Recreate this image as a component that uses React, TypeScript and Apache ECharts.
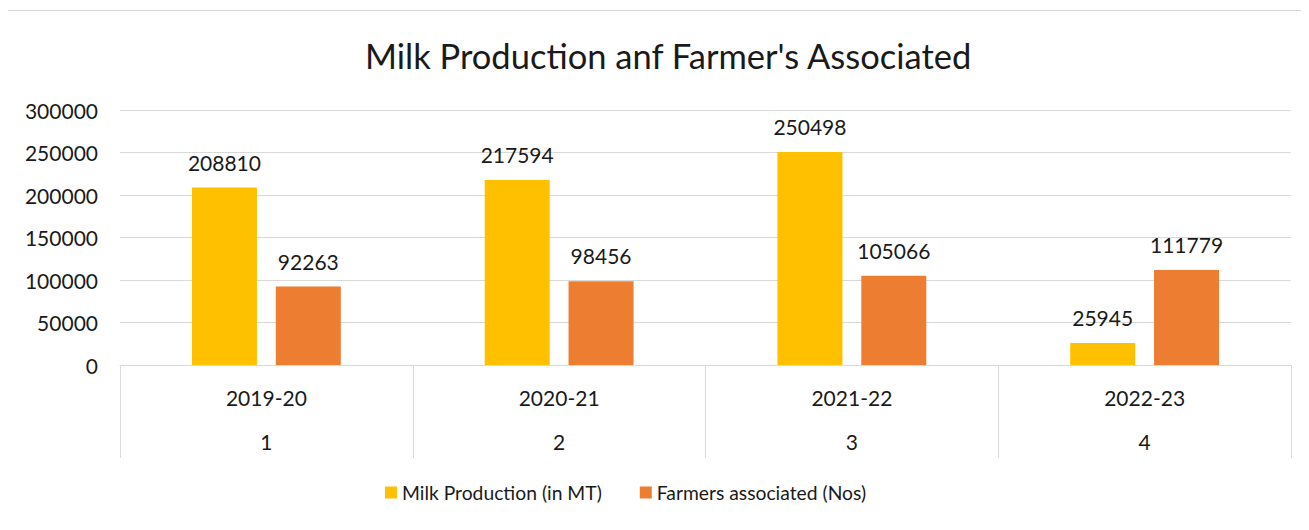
import React, { useEffect, useRef } from "react";
import * as echarts from "echarts";

const years = ["2019-20", "2020-21", "2021-22", "2022-23"];
const periods = ["1", "2", "3", "4"];
const milkProduction = [208810, 217594, 250498, 25945];
const farmersAssociated = [92263, 98456, 105066, 111779];
const yTicks = { min: 0, max: 300000, interval: 50000 };

const FONT = "Lato, 'Open Sans', sans-serif";

export default function App() {
  const ref = useRef<HTMLDivElement>(null);
  useEffect(() => {
    if (!ref.current) return;
    const chart = echarts.init(ref.current, undefined, { renderer: "svg" });
    const labelStyle = {
      show: true,
      position: "top" as const,
      distance: 15,
      fontSize: 21,
      fontFamily: FONT,
      color: "#1a1a1a",
    };
    chart.setOption({
      animation: false,
      backgroundColor: "#ffffff",
      textStyle: { fontFamily: FONT },
      title: {
        text: "Milk Production anf Farmer's Associated",
        left: 360,
        top: 33,
        textStyle: { fontSize: 34.5, fontWeight: "normal", color: "#1a1a1a", fontFamily: FONT },
      },
      graphic: [
        {
          type: "rect",
          shape: { x: 7.5, y: 10.5, width: 1309, height: 530 },
          style: { fill: "none", stroke: "#d9d9d9", lineWidth: 1 },
          silent: true,
        },
      ],
      grid: { left: 120, right: 18, top: 110, bottom: 165, containLabel: false },
      legend: {
        bottom: 23,
        left: 380,
        itemWidth: 12,
        itemHeight: 12,
        itemGap: 38,
        icon: "rect",
        textStyle: { fontSize: 19.3, color: "#1a1a1a", fontFamily: FONT },
        data: ["Milk Production (in MT)", "Farmers associated (Nos)"],
      },
      xAxis: [
        {
          type: "category",
          data: years,
          position: "bottom",
          axisLine: { show: true, lineStyle: { color: "#d9d9d9" } },
          axisTick: { show: true, length: 93, interval: 0, lineStyle: { color: "#d9d9d9" } },
          axisLabel: { margin: 22, fontSize: 21, color: "#1a1a1a", fontFamily: FONT },
        },
        {
          type: "category",
          data: periods,
          position: "bottom",
          axisLine: { show: false },
          axisTick: { show: false },
          axisLabel: { margin: 66, fontSize: 21, color: "#1a1a1a", fontFamily: FONT },
        },
      ],
      yAxis: {
        type: "value",
        min: yTicks.min,
        max: yTicks.max,
        interval: yTicks.interval,
        axisLine: { show: false },
        axisTick: { show: false },
        axisLabel: {
          margin: 22,
          fontSize: 21,
          color: "#1a1a1a",
          fontFamily: FONT,
          formatter: (v: number) => String(v),
        },
        splitLine: { lineStyle: { color: "#d9d9d9" } },
      },
      series: [
        {
          name: "Milk Production (in MT)",
          type: "bar",
          data: milkProduction,
          itemStyle: { color: "#FFC000" },
          barWidth: 65,
          barGap: "29%",
          label: labelStyle,
        },
        {
          name: "Farmers associated (Nos)",
          type: "bar",
          data: farmersAssociated,
          itemStyle: { color: "#ED7D31" },
          barWidth: 65,
          barGap: "29%",
          label: labelStyle,
        },
      ],
    });
    return () => chart.dispose();
  }, []);
  return <div ref={ref} style={{ width: 1309, height: 530, margin: -8 }} />;
}
